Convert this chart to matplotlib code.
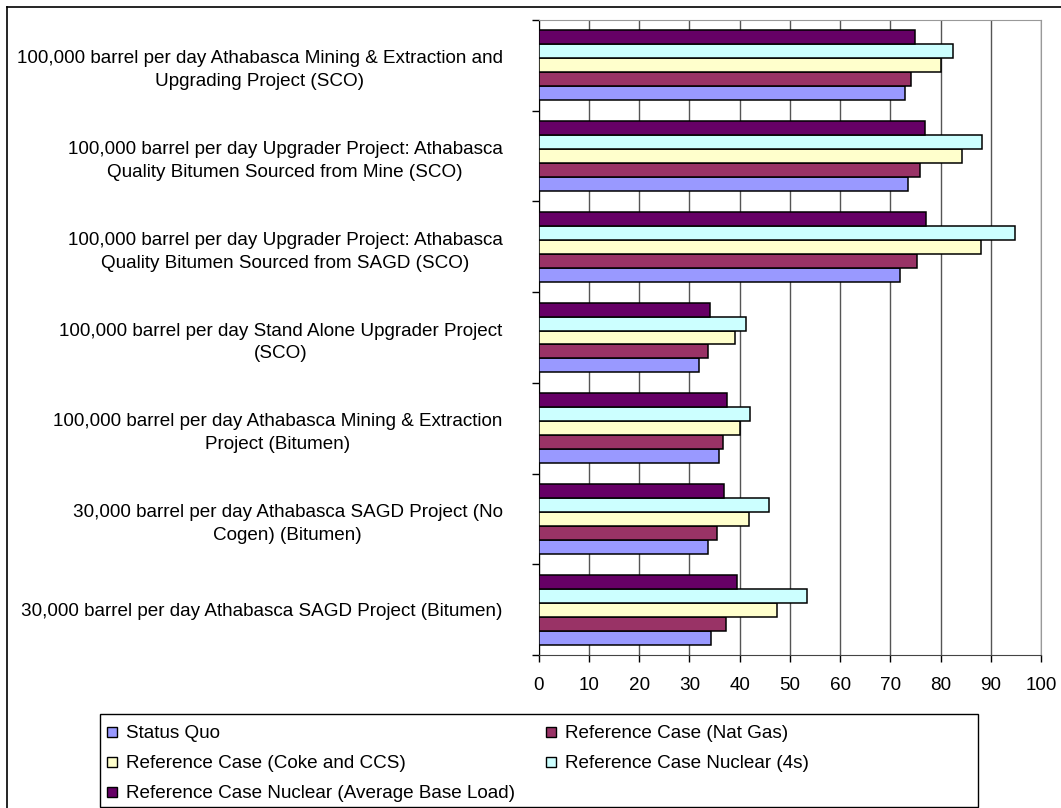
import numpy as np
import matplotlib.pyplot as plt
from matplotlib.patches import Rectangle
from matplotlib.lines import Line2D

plt.rcParams['font.family'] = ['Liberation Sans', 'DejaVu Sans']

W, H = 1061, 808

# projects, listed bottom to top as they sit on the y axis
projects = [
    '30,000 barrel per day Athabasca SAGD Project (Bitumen)',
    '30,000 barrel per day Athabasca SAGD Project (No\nCogen) (Bitumen)',
    '100,000 barrel per day Athabasca Mining & Extraction\nProject (Bitumen)',
    '100,000 barrel per day Stand Alone Upgrader Project\n(SCO)',
    '100,000 barrel per day Upgrader Project: Athabasca\nQuality Bitumen Sourced from SAGD (SCO)',
    '100,000 barrel per day Upgrader Project: Athabasca\nQuality Bitumen Sourced from Mine (SCO)',
    '100,000 barrel per day Athabasca Mining & Extraction and\nUpgrading Project (SCO)',
]

status_quo = [34.4, 33.8, 35.8, 31.9, 71.9, 73.5, 72.9]
nat_gas = [37.2, 35.4, 36.6, 33.8, 75.3, 76.0, 74.2]
coke_ccs = [47.4, 41.9, 40.1, 39.1, 88.0, 84.2, 80.1]
nuclear_4s = [53.4, 45.9, 42.1, 41.3, 94.8, 88.3, 82.4]
nuclear_avg = [39.4, 36.9, 37.4, 34.1, 77.2, 77.0, 75.0]

series = [
    ('Status Quo', status_quo, '#9999FF'),
    ('Reference Case (Nat Gas)', nat_gas, '#993366'),
    ('Reference Case (Coke and CCS)', coke_ccs, '#FFFFCC'),
    ('Reference Case Nuclear (4s)', nuclear_4s, '#CCFFFF'),
    ('Reference Case Nuclear (Average Base Load)', nuclear_avg, '#660066'),
]

fs = 13.6

fig = plt.figure(figsize=(W / 100, H / 100), dpi=100)
ax = fig.add_axes([538.7 / W, 1 - 655 / H, (1041 - 538.7) / W, 635 / H])

y = np.arange(len(projects))
bar_h = 1 / 6.5
for i, (name, vals, col) in enumerate(series):
    ax.barh(y + (i - 2) * bar_h, vals, height=bar_h, color=col,
            edgecolor='black', linewidth=1.1, label=name, zorder=3)

ax.set_xlim(0, 100)
ax.set_ylim(-0.5, len(projects) - 0.5)
ax.set_xticks(range(0, 101, 10))
ax.set_yticks(y)
ax.set_yticklabels(projects, multialignment='center', linespacing=1.45)
ax.set_yticks(np.arange(-0.5, len(projects), 1), minor=True)
ax.tick_params(axis='y', which='major', length=0, pad=26, labelsize=fs)
ax.tick_params(axis='y', which='minor', length=5, width=1, direction='out')
ax.tick_params(axis='x', length=5, width=1, direction='out', pad=11, labelsize=fs)
ax.grid(axis='x', color='#555555', linewidth=1, zorder=0)

ax.spines['left'].set_color('black')
ax.spines['bottom'].set_color('#444444')
ax.spines['top'].set_color('#999999')
ax.spines['right'].set_color('#999999')

# legend box drawn by hand: two columns, three rows
fig.add_artist(Rectangle((100 / W, 1 - 807 / H), 878 / W, 93 / H, transform=fig.transFigure,
                         facecolor='white', edgecolor='black', linewidth=1))
slots = [(107, 738), (546, 738), (107, 768), (546, 768), (107, 798)]
for (name, vals, col), (px, base) in zip(series, slots):
    fig.add_artist(Rectangle((px / W, 1 - (base - 1) / H), 10 / W, 10 / H,
                             transform=fig.transFigure, facecolor=col,
                             edgecolor='black', linewidth=1))
    fig.text((px + 19) / W, 1 - base / H, name, fontsize=fs, ha='left', va='baseline')

# outer chart border (left and top edges)
fig.add_artist(Line2D([7 / W, 7 / W], [0, 1 - 7 / H], color='black', linewidth=1.2))
fig.add_artist(Line2D([7 / W, 1], [1 - 7 / H, 1 - 7 / H], color='black', linewidth=1.2))

fig.savefig('out.png', dpi=100)
